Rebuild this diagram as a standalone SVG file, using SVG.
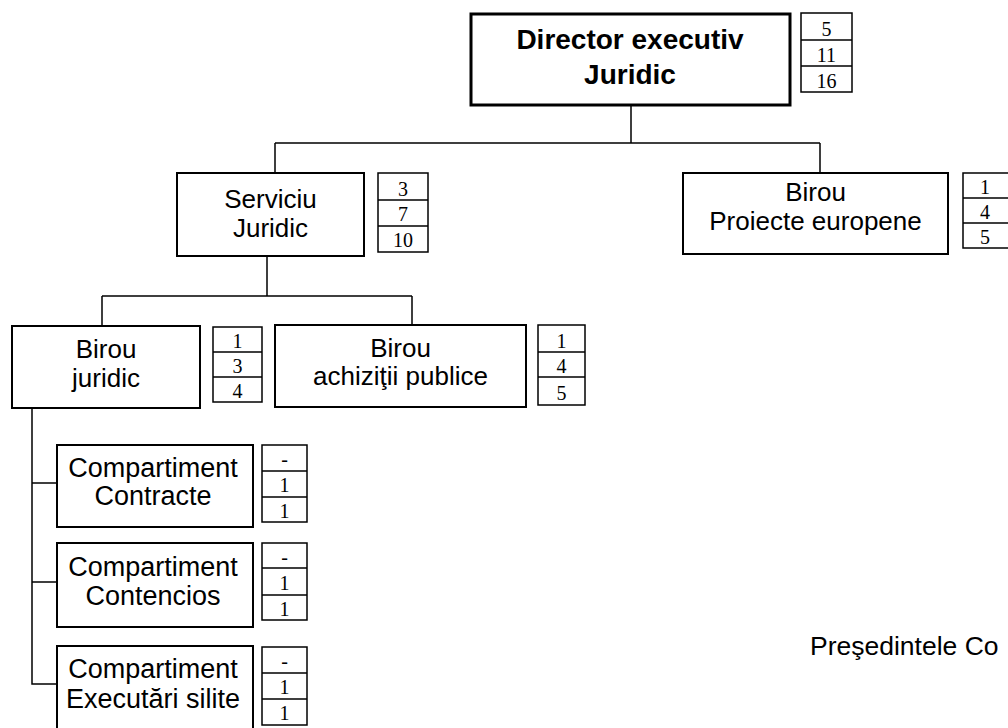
<svg xmlns="http://www.w3.org/2000/svg" width="1008" height="728" viewBox="0 0 1008 728">
<style>
.bg{fill:#ffffff}
.box{fill:#ffffff;stroke:#000;stroke-width:2}
.boxb{fill:#ffffff;stroke:#000;stroke-width:3}
.tb{fill:#ffffff;stroke:#000;stroke-width:1.5}
.ln{fill:none;stroke:#000;stroke-width:1.5}
.t{font-family:"Liberation Sans",Arial,sans-serif;font-size:26px;text-anchor:middle;fill:#000}
.tc{font-family:"Liberation Sans",Arial,sans-serif;font-size:27px;text-anchor:middle;fill:#000}
.tbold{font-family:"Liberation Sans",Arial,sans-serif;font-size:28px;font-weight:bold;text-anchor:middle;fill:#000}
.n{font-family:"Liberation Serif","Times New Roman",serif;font-size:20px;text-anchor:middle;fill:#000}
.p{font-family:"Liberation Sans",Arial,sans-serif;font-size:26.5px;fill:#000}
</style>
<rect class="bg" x="0" y="0" width="1008" height="728"/>

<g id="connectors">
<path class="ln" d="M631 105 V143 M275 143 H820 M275 143 V173 M820 143 V173"/>
<path class="ln" d="M267 256 V296 M102 296 H412 M102 296 V326 M412 296 V325"/>
<path class="ln" d="M32 408 V684 H57 M32 483 H57 M32 582 H57"/>
</g>

<g id="director">
<rect class="boxb" x="471" y="14" width="319" height="91"/>
<text class="tbold" x="630" y="49">Director executiv</text>
<text class="tbold" x="630" y="84">Juridic</text>
<g id="director-table">
<rect class="tb" x="801" y="13" width="51" height="79"/>
<path class="ln" d="M801 40 H852 M801 66 H852"/>
<text class="n" x="826.5" y="36">5</text>
<text class="n" x="826.5" y="62">11</text>
<text class="n" x="826.5" y="88">16</text>
</g>
</g>

<g id="serviciu">
<rect class="box" x="177" y="173" width="187" height="83"/>
<text class="t" x="270.5" y="208">Serviciu</text>
<text class="t" x="270.5" y="237">Juridic</text>
<g id="serviciu-table">
<rect class="tb" x="378" y="173" width="50" height="79"/>
<path class="ln" d="M378 200 H428 M378 226 H428"/>
<text class="n" x="403" y="196">3</text>
<text class="n" x="403" y="221">7</text>
<text class="n" x="403" y="247">10</text>
</g>
</g>

<g id="proiecte">
<rect class="box" x="683" y="173" width="265" height="81"/>
<text class="t" x="815.5" y="201">Birou</text>
<text class="t" x="815.5" y="230">Proiecte europene</text>
<g id="proiecte-table">
<rect class="tb" x="963" y="173" width="50" height="75"/>
<path class="ln" d="M963 198 H1013 M963 223 H1013"/>
<text class="n" x="985" y="194">1</text>
<text class="n" x="985" y="219">4</text>
<text class="n" x="985" y="244">5</text>
</g>
</g>

<g id="birou-juridic">
<rect class="box" x="12" y="326" width="188" height="82"/>
<text class="t" x="106" y="358">Birou</text>
<text class="t" x="106" y="387">juridic</text>
<g id="birou-juridic-table">
<rect class="tb" x="213" y="327" width="49" height="75"/>
<path class="ln" d="M213 352 H262 M213 377 H262"/>
<text class="n" x="237.5" y="348">1</text>
<text class="n" x="237.5" y="373">3</text>
<text class="n" x="237.5" y="398">4</text>
</g>
</g>

<g id="achizitii">
<rect class="box" x="275" y="325" width="251" height="82"/>
<text class="t" x="400.5" y="357">Birou</text>
<text class="t" x="400.5" y="385">achiziţii publice</text>
<g id="achizitii-table">
<rect class="tb" x="538" y="325" width="47" height="80"/>
<path class="ln" d="M538 352 H585 M538 377 H585"/>
<text class="n" x="561.5" y="348">1</text>
<text class="n" x="561.5" y="373">4</text>
<text class="n" x="561.5" y="400">5</text>
</g>
</g>

<g id="contracte">
<rect class="box" x="57" y="445" width="196" height="82"/>
<text class="tc" x="153" y="477">Compartiment</text>
<text class="tc" x="153" y="505">Contracte</text>
<g id="contracte-table">
<rect class="tb" x="262" y="445" width="45" height="77"/>
<path class="ln" d="M262 471 H307 M262 497 H307"/>
<text class="n" x="284.5" y="466">-</text>
<text class="n" x="284.5" y="492">1</text>
<text class="n" x="284.5" y="518">1</text>
</g>
</g>

<g id="contencios">
<rect class="box" x="57" y="543" width="196" height="84"/>
<text class="tc" x="153" y="576">Compartiment</text>
<text class="tc" x="153" y="605">Contencios</text>
<g id="contencios-table">
<rect class="tb" x="262" y="543" width="45" height="77"/>
<path class="ln" d="M262 568 H307 M262 595 H307"/>
<text class="n" x="284.5" y="564">-</text>
<text class="n" x="284.5" y="590">1</text>
<text class="n" x="284.5" y="616">1</text>
</g>
</g>

<g id="executari">
<rect class="box" x="57" y="646" width="196" height="86"/>
<text class="tc" x="153" y="678">Compartiment</text>
<text class="tc" x="153" y="708">Executări silite</text>
<g id="executari-table">
<rect class="tb" x="262" y="647" width="45" height="78"/>
<path class="ln" d="M262 673 H307 M262 699 H307"/>
<text class="n" x="284.5" y="668">-</text>
<text class="n" x="284.5" y="694">1</text>
<text class="n" x="284.5" y="720">1</text>
</g>
</g>

<g id="presedinte">
<text class="p" x="810" y="655">Preşedintele Co</text>
</g>
</svg>
